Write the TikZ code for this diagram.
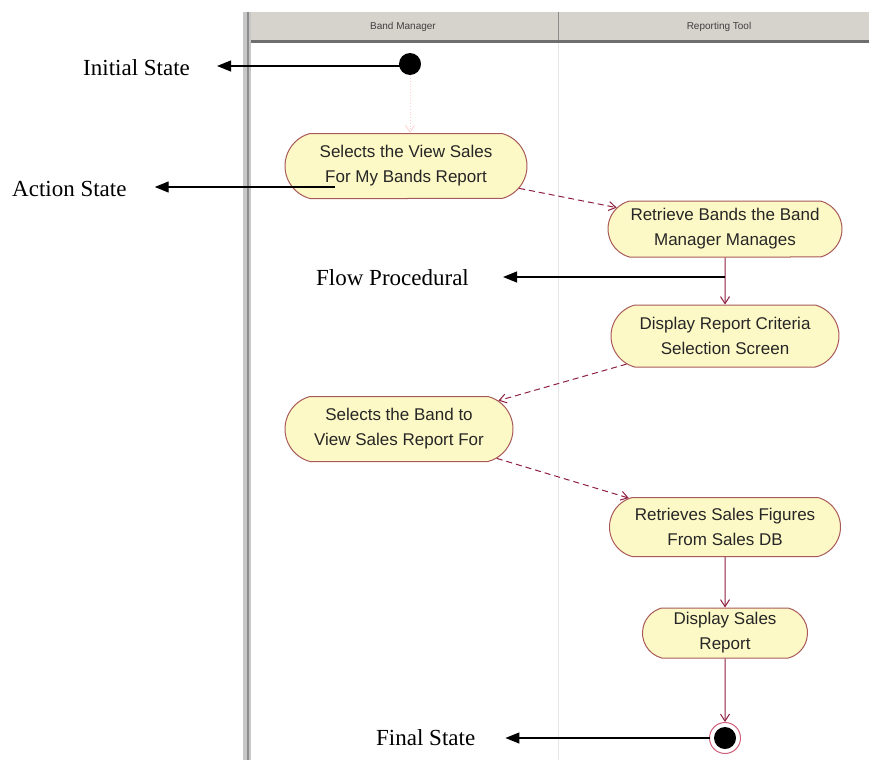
\documentclass[tikz,border=0pt]{standalone}
\usepackage{fontspec}
\setmainfont{Liberation Serif}
\setsansfont{Liberation Sans}
\usetikzlibrary{shapes.misc,arrows.meta}
\definecolor{boxfill}{HTML}{FDF9C6}
\definecolor{boxline}{HTML}{A85A5A}
\definecolor{flowcol}{HTML}{8E2040}
\definecolor{hdrfill}{HTML}{D6D3CC}
\definecolor{hdrline}{HTML}{6E6E6E}
\definecolor{lanecol}{HTML}{E6E6E6}
\definecolor{ringcol}{HTML}{D0607A}
\tikzset{
  actbox/.style={rounded rectangle, rounded rectangle arc length=150, draw=boxline, line width=1pt, fill=boxfill,
    inner sep=0pt, align=center, text=black!85, font=\sffamily\fontsize{17}{25}\selectfont},
  flow/.style={draw=flowcol, line width=1pt, -{Straight Barb[length=7pt,width=9pt]}},
  dflow/.style={flow, dash pattern=on 6pt off 4pt},
  initflow/.style={draw=pink!70, line width=0.8pt, dotted, -{Straight Barb[length=7pt,width=9pt]}},
  callout/.style={draw=black, line width=1.3pt, -{Triangle[length=14pt,width=11pt]}},
  lbl/.style={font=\fontsize{23}{27}\selectfont, anchor=base west, inner sep=0pt},
  hdr/.style={font=\sffamily\fontsize{10}{12}\selectfont, text=black!75},
}
\begin{document}
\begin{tikzpicture}[x=1pt,y=-1pt]
\useasboundingbox (0,0) rectangle (869,760);
\fill[white] (0,0) rectangle (869,760);
% swimlane frame
\fill[hdrfill] (248,12) rectangle (869,40);
\fill[hdrline] (248,40) rectangle (869,43);
\draw[lanecol, line width=1pt] (558,43) -- (558,760);
\draw[black!45, line width=1pt] (558,12) -- (558,40);
\fill[black!22] (243,12) rectangle (251,760);
\draw[black!45, line width=1.5pt] (248,12) -- (248,760);
\node[hdr] (h1) at (403,27) {Band Manager};
\node[hdr] (h2) at (719,27) {Reporting Tool};
% states
\node[circle, fill=black, minimum size=22pt, inner sep=0pt] (init) at (410,64) {};
\node[actbox, minimum width=242pt, minimum height=65pt] (a1) at (406,166) {Selects the View Sales\\For My Bands Report};
\node[actbox, minimum width=234pt, minimum height=56pt] (a2) at (725,229) {Retrieve Bands the Band\\Manager Manages};
\node[actbox, minimum width=228pt, minimum height=62pt] (a3) at (725,336) {Display Report Criteria\\Selection Screen};
\node[actbox, minimum width=228pt, minimum height=65pt] (a4) at (399,429) {Selects the Band to\\View Sales Report For};
\node[actbox, minimum width=231pt, minimum height=59pt] (a5) at (725,527) {Retrieves Sales Figures\\From Sales DB};
\node[actbox, minimum width=165pt, minimum height=50pt] (a6) at (725,633) {Display Sales\\Report};
\node[circle, draw=ringcol, line width=1pt, minimum size=31pt, inner sep=0pt] (fin) at (725,738) {};
\node[circle, fill=black, minimum size=22pt, inner sep=0pt] (finc) at (fin.center) {};
% flows
\draw[initflow] (init) -- (init |- a1.north);
\draw[dflow] (a1) -- (a2);
\draw[flow] (a2) -- (a3);
\draw[dflow] (a3) -- (a4);
\draw[dflow] (a4) -- (a5);
\draw[flow] (a5) -- (a6);
\draw[flow] (a6) -- (fin);
% callout labels
\node[lbl] (l1) at (83,75) {Initial State};
\node[lbl] (l2) at (12,196) {Action State};
\node[lbl] (l3) at (316,285) {Flow Procedural};
\node[lbl] (l4) at (376,745) {Final State};
\coordinate (c1) at (400,66);
\coordinate (c2) at (335,187);
\coordinate (c3) at (725,277);
\coordinate (c4) at (710,738);
\draw[callout, shorten >=27pt] (c1) -- (c1 -| l1.east);
\draw[callout, shorten >=28pt] (c2) -- (c2 -| l2.east);
\draw[callout, shorten >=34pt] (c3) -- (c3 -| l3.east);
\draw[callout, shorten >=30pt] (c4) -- (c4 -| l4.east);
\end{tikzpicture}
\end{document}
